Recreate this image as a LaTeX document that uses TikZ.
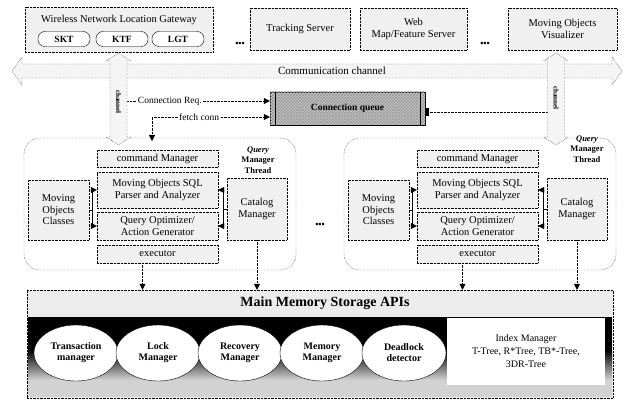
\documentclass[tikz,border=0pt]{standalone}
\usepackage{fontspec}
\setmainfont{Liberation Serif}
\usetikzlibrary{positioning,arrows.meta,shapes.geometric,patterns}
\begin{document}
\begin{tikzpicture}[x=1pt,y=-1pt,>={Triangle[length=6pt,width=6pt]},
  box/.style={draw,densely dotted,fill=gray!12,align=center,inner sep=1pt,font=\fontsize{10.5}{11.5}\selectfont},
  oval/.style={draw,rounded corners=7pt,fill=white,minimum width=52pt,minimum height=15pt,inner sep=0pt,font=\bfseries\fontsize{9.5}{10}\selectfont},
  flow/.style={densely dotted,->},
  lbl/.style={fill=white,inner sep=1pt,font=\fontsize{9.5}{10}\selectfont},
  mgr/.style={ellipse,draw,fill=white,minimum width=84pt,minimum height=56pt,inner sep=0pt,align=center,font=\bfseries\fontsize{10}{11}\selectfont},
  chan/.style={densely dotted,fill=gray!8},
  etc/.style={font=\bfseries\fontsize{9}{9}\selectfont}]
  \useasboundingbox (0,0) rectangle (624,401);

  %Servers on top
  \node[box,minimum width=188pt,minimum height=45pt] (gw) at (119,29.5) {};
  \node[font=\fontsize{10.5}{11.5}\selectfont] (gwtitle) at (119,20) {Wireless Network Location Gateway};
  \node[oval] (skt) at (64,39) {SKT};
  \node[oval] (ktf) at (122,39) {KTF};
  \node[oval] (lgt) at (178,39) {LGT};
  \node[etc] (dots1) at (240,44) {\textbullet\textbullet\textbullet};
  \node[box,minimum width=100pt,minimum height=42pt] (track) at (300,29) {Tracking Server};
  \node[box,minimum width=107pt,minimum height=42pt] (web) at (413.5,29) {Web\\Map/Feature Server};
  \node[etc] (dots2) at (485,44) {\textbullet\textbullet\textbullet};
  \node[box,minimum width=109pt,minimum height=42pt] (vis) at (562.5,29) {Moving Objects\\Visualizer};

  %Communication channel
  \draw[chan] (12,71) -- (22,57) -- (22,64) -- (612,64) -- (612,57) -- (622,71)
    -- (612,85) -- (612,78) -- (22,78) -- (22,85) -- cycle;
  \node[font=\fontsize{11}{12}\selectfont] (commlbl) at (332,71) {Communication channel};

  %Storage APIs
  \node[draw,densely dotted,fill=gray!15,minimum width=586pt,minimum height=108pt] (store) at (320,344) {};
  \fill[black] (28,317) rectangle (612,350);
  \shade[top color=black,bottom color=gray!35] (28,350) rectangle (612,380);
  \fill[gray!35] (28,380) rectangle (612,397);
  \node[font=\bfseries\fontsize{14}{16}\selectfont] (storetitle) at (325,303) {Main Memory Storage APIs};
  \foreach \i/\txt in {0/{Transaction\\manager},1/{Lock\\Manager},2/{Recovery\\Manager},3/{Memory\\Manager},4/{Deadlock\\detector}}
    \node[mgr] (mgr\i) at (76+82*\i,353) {\txt};
  \node[draw,fill=white,double,double distance=2pt,minimum width=156pt,minimum height=65pt,align=center,font=\fontsize{10}{13}\selectfont] (index) at (526,351.5) {Index Manager\\T-Tree, R*Tree, TB*-Tree,\\3DR-Tree};

  %Query managers
  \foreach \dx/\nm/\tx/\ty in {0/L/258/160,320/R/587/149} {
    \node[draw,densely dotted,fill=white,rounded corners=16pt,minimum width=272pt,minimum height=132pt] (qm\nm) at (160+\dx,204) {};
    \node[box,minimum width=121pt,minimum height=17pt] (cmd\nm) at (157.5+\dx,158.5) {command Manager};
    \node[box,minimum width=121pt,minimum height=36pt] (parser\nm) at (157.5+\dx,190) {Moving Objects SQL\\Parser and Analyzer};
    \node[box,minimum width=121pt,minimum height=28pt] (optim\nm) at (157.5+\dx,226) {Query Optimizer/\\Action Generator};
    \node[box,minimum width=121pt,minimum height=18pt] (exec\nm) at (157.5+\dx,254) {executor};
    \node[box,minimum width=61pt,minimum height=60pt] (classes\nm) at (58.5+\dx,210) {Moving\\Objects\\Classes};
    \node[box,minimum width=60pt,minimum height=62pt] (catalog\nm) at (257+\dx,209) {Catalog\\Manager};
    \node[align=center,font=\bfseries\fontsize{8.5}{10.5}\selectfont] (thread\nm) at (\tx,\ty) {\textit{Query}\\Manager\\Thread};
    \draw[->] (classes\nm.east) -- ++(3,0) |- (parser\nm.west);
    \draw[->] (classes\nm.east) -- ++(3,0) |- (optim\nm.west);
    \draw[->] (catalog\nm.west) -- ++(-4,0) |- (parser\nm.east);
    \draw[->] (catalog\nm.west) -- ++(-4,0) |- (optim\nm.east);
    \draw[flow] ([xshift=-15pt]exec\nm.south) -- ([xshift=-15pt]exec\nm.south |- store.north);
    \draw[flow] (catalog\nm.south) -- (catalog\nm.south |- store.north);
  }
  \node[etc] (dots3) at (320,225) {\textbullet\textbullet\textbullet};

  %Connection queue
  \node[draw,fill=gray!45,postaction={pattern=crosshatch,pattern color=gray!80},minimum width=155pt,minimum height=33pt,font=\bfseries\fontsize{9.5}{10}\selectfont] (queue) at (347.5,108.5) {Connection queue};
  \draw ([xshift=5pt]queue.north west) -- ([xshift=5pt]queue.south west);
  \draw ([xshift=-5pt]queue.north east) -- ([xshift=-5pt]queue.south east);
  \node[fill=black,minimum width=4pt,minimum height=8pt,inner sep=0pt,anchor=west] (qport) at (queue.east |- 0,112) {};
  \coordinate (reqs) at (127,101);
  \coordinate (fetchs) at (152,141);
  \coordinate (fetchc) at (152,117);
  \coordinate (qout) at (547.5,112);
  \draw[flow] (reqs) -- (queue.west |- reqs) node[lbl,pos=0.3] (reqlbl) {Connection Req.};
  \draw[flow,<->] (fetchs) -- (fetchc) -- (queue.west |- fetchc) node[lbl,pos=0.4] (fetchlbl) {fetch conn};
  \draw[densely dotted] (qport) -- (qout);

  %Vertical channels
  \foreach \cx/\nm/\ly in {118.5/L/102,556/R/98} {
    \draw[chan] (\cx,53) -- ++(12.5,8) -- ++(-4,0) -- ++(0,76) -- ++(4,0) -- (\cx,145)
      -- ++(-12.5,-8) -- ++(4,0) -- ++(0,-76) -- ++(-4,0) -- cycle;
    \node[rotate=-90,inner sep=0pt,font=\bfseries\fontsize{7}{7}\selectfont] (ch\nm) at (\cx,\ly) {channel};
  }
\end{tikzpicture}
\end{document}
